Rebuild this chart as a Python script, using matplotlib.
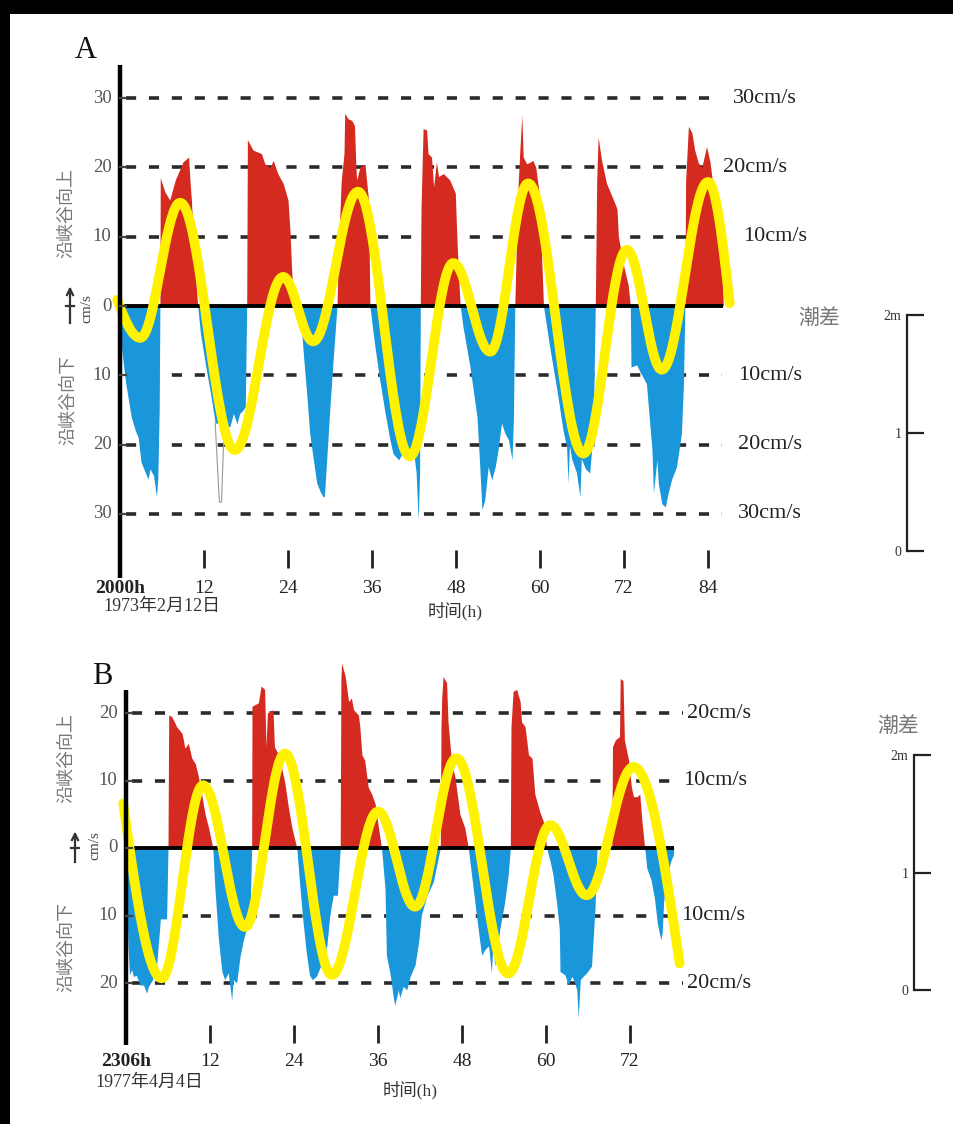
import numpy as np
import matplotlib
matplotlib.use("Agg")
import matplotlib.pyplot as plt
from matplotlib.patches import Rectangle

plt.rcParams['lines.scale_dashes'] = False

W, H = 954, 1124
RED = '#D52A1F'
BLUE = '#1A96DA'
YEL = '#FFF200'
DASH = '#2a2a2a'
SERIF = ['Liberation Serif', 'Noto Sans CJK SC']
CJK = ['Noto Sans CJK SC', 'DejaVu Sans']

# ---------------- Panel A data (hours, speed cm/s; + up-canyon, - down-canyon) ----------------
a_hours = [0, 0.2, 0.8, 1.6, 2.2, 2.6, 3.0, 3.6, 4.0, 4.3, 4.8, 5.2, 5.4, 5.6, 5.7,
           5.75, 6.4, 7.1, 7.9, 9.0, 9.8, 10.0, 10.2, 10.6, 11.1,
           11.5, 12.3, 13.0, 13.6, 14.9, 15.2, 15.7, 16.2, 16.7, 17.1, 17.6, 17.9, 18.1,
           18.2, 19.0, 20.2, 20.7, 21.4, 21.9, 22.4, 22.6, 23.3, 24.0, 24.3, 24.5, 24.8,
           25.7, 26.2, 26.7, 27.1, 27.6, 28.1, 28.6, 29.0, 29.2, 29.6, 30.0, 30.5, 31.0,
           31.2, 31.6, 32.0, 32.1, 32.6, 33.1, 33.5, 33.7, 33.8, 34.3, 35.0, 35.5, 35.6, 35.7,
           36.3, 37.0, 37.8, 38.5, 39.0, 39.8, 40.5, 41.2, 41.9, 42.3, 42.6, 42.8, 42.9,
           43.0, 43.3, 43.8, 44.0, 44.5, 44.8, 45.2, 45.5, 46.2, 47.1, 47.9, 48.1, 48.3, 48.6,
           49.0, 50.0, 51.0, 51.4, 51.7, 52.1, 52.6, 53.1, 53.6, 54.0, 54.5, 55.0, 55.5, 56.0, 56.2, 56.4,
           56.6, 56.9, 57.1, 57.4, 57.6, 58.1, 59.0, 59.4, 60.0, 60.2, 60.5,
           61.4, 62.4, 63.3, 63.8, 64.0, 64.2, 64.5, 65.2, 65.7, 65.9, 66.5, 67.1, 67.6, 67.9,
           68.1, 68.3, 68.8, 69.5, 70.5, 71.0, 71.2, 71.9, 72.6, 72.9,
           73.0, 73.8, 74.3, 75.2, 76.0, 76.2, 76.7, 76.9, 77.4, 77.9, 78.3, 78.8, 79.5, 80.2, 80.5, 80.7,
           80.8, 81.2, 81.7, 82.1, 82.6, 83.1, 83.8, 84.3, 85.0, 85.5, 86.0, 86.2]
a_speed = [0, -6, -11, -16, -18, -19, -22.5, -24, -25, -23.5, -24.5, -27.5, -25, -15, 0,
           18.5, 16.5, 15.3, 18.2, 20.8, 21.5, 18, 15.3, 7, 0,
           -4, -9, -13, -16.9, -16.9, -17.5, -17.4, -15.5, -17, -15.5, -15, -14.5, 0,
           24, 22.5, 22, 20.5, 20, 21, 19.5, 19, 17.7, 15.3, 10.5, 5.6, 0,
           0, -7, -13, -18.4, -22, -25.5, -26.8, -27.5, -27.5, -21, -14.4, -7, 0,
           8, 18, 22, 27.8, 27, 26.8, 26, 20, 18.2, 20.1, 20.4, 15.3, 8, 0,
           -5, -10, -15, -19, -21.3, -22.2, -21, -21, -20.8, -24, -30.9, -24, 0,
           14, 25.6, 25.4, 22.0, 21.5, 17.2, 20.8, 18.7, 19.1, 18.2, 16.3, 10.5, 5.7, 0,
           -3, -8.8, -16.0, -23.2, -29.4, -28, -23.2, -25.1, -23.2, -20.8, -16.9, -18.4, -19.3, -22.2, -16.5, 0,
           8, 18, 22, 27.6, 21.5, 20.5, 21, 20, 15.3, 8, 0,
           -6, -12, -18, -20.3, -25.6, -20, -22, -24, -27.5, -22, -23.5, -24.1, -18, 0,
           18, 24.4, 21, 17.7, 15.3, 14, 10, 6, 3, 0,
           -8.8, -8.5, -9.5, -11.2, -20.8, -27, -22.2, -25.6, -28.5, -29, -27, -25, -23.2, -18.4, -11, 0,
           18, 25.9, 25, 22.5, 20.7, 20, 23, 20.7, 15, 10, 5, 0]
# unfilled (outlined) spike in panel A
a_gap_hours = [13.6, 14.2, 14.5, 14.9]
a_gap_speed = [-16.9, -28.3, -28.3, -16.9]
# tide curve turning points (drawn in the velocity frame)
a_tide_hours = [-0.4, 2.9, 8.6, 16.4, 23.3, 27.6, 34.0, 41.4, 47.6, 52.9, 58.3, 66.2, 72.4, 77.4, 84.0, 87.1]
a_tide_level = [0.9, -4.6, 14.9, -20.8, 4.2, -5.1, 16.5, -21.7, 6.2, -6.6, 17.7, -21.3, 8.1, -9.2, 17.9, 0.4]
a_xticks = [12, 24, 36, 48, 60, 72, 84]
a_yticks = [30, 20, 10, 0, -10, -20, -30]
a_ylabels = ['30', '20', '10', '0', '10', '20', '30']
a_guides = [30, 20, 10, -10, -20, -30]
a_guide_labels = ['30cm/s', '20cm/s', '10cm/s', '10cm/s', '20cm/s', '30cm/s']

# ---------------- Panel B data ----------------
b_hours = [-0.1, 0.0, 0.3, 0.5, 0.8, 1.05, 1.5, 2.0, 2.5, 2.95, 3.2, 3.8, 4.4, 4.8, 4.9, 5.8, 6.0,
           6.1, 6.5, 7.0, 7.2, 8.0, 8.2, 8.4, 8.9, 9.4, 9.9, 10.3, 10.8, 11.3, 11.8, 12.4,
           12.7, 13.2, 13.7, 14.1, 14.6, 15.1, 15.3, 15.8, 16.3, 16.8, 17.2, 17.7, 17.95,
           18.0, 18.9, 19.3, 19.8, 20.0, 20.2, 21.0, 21.2, 21.8, 22.2, 22.7, 23.2, 23.7, 24.4,
           24.7, 25.2, 25.7, 26.2, 26.6, 27.2, 28.0, 28.7, 29.1, 29.6, 30.2, 30.6,
           30.7, 30.8, 31.3, 31.8, 32.2, 32.5, 33.2, 33.4, 33.7, 34.1, 34.6, 35.1, 35.6, 36.0, 36.5,
           37.0, 37.2, 37.7, 38.2, 38.4, 38.9, 39.1, 39.6, 40.1, 40.6, 41.3, 41.8, 42.2, 43.0, 43.9, 44.9,
           45.0, 45.1, 45.3, 45.8, 46.0, 46.5, 47.0, 47.7, 48.4, 48.9,
           49.6, 50.3, 50.8, 51.3, 51.8, 52.2, 52.4, 52.7, 53.4, 54.1, 54.6, 54.9,
           55.0, 55.3, 55.8, 56.3, 56.5, 57.0, 57.5, 58.0, 58.4, 59.1, 59.6, 60.1,
           60.6, 61.0, 61.5, 61.9, 62.0, 62.7, 63.2, 63.7, 64.1, 64.4, 64.6, 64.9, 65.3, 65.8, 66.5, 67.0, 67.3, 69.4,
           69.5, 69.9, 70.5, 70.6, 71.0, 71.2, 71.8, 72.2, 72.5, 73.0, 73.4, 73.7, 74.1,
           74.4, 75.0, 75.5, 75.9, 76.4, 76.6, 76.8, 77.3, 77.8, 78.2, 78.25]
b_speed = [0, -5, -14.8, -18.8, -18, -19, -18.9, -20.3, -20.3, -21.5, -20.5, -19.5, -17, -12, -10.5, -10.5, 0,
           19.7, 19.5, 18.5, 18, 17, 16, 14.8, 15.5, 13.3, 12.5, 10.8, 8, 5, 3, 0,
           -6, -13.5, -18.3, -19.5, -18.5, -22.5, -19.5, -20, -16, -13.5, -12, -11, 0,
           21, 21.5, 24, 23.5, 15, 20, 20.5, 15, 13.8, 12, 9.6, 6, 3, 0,
           -4, -10, -15, -18.8, -19.5, -19, -17, -14.4, -10.1, -7, -7, 0,
           25, 27.4, 25.5, 21.7, 22.2, 20.5, 19.7, 18, 13.8, 13, 9, 8, 6.5, 3.5, 0,
           -6, -15.9, -18.5, -22.2, -23.3, -21, -22.2, -20.5, -21, -19, -17.3, -13.9, -9.9, -7, -5, 0,
           18, 22.2, 25.4, 24.5, 18.7, 12.8, 10.5, 5, 3, 0,
           -6, -11.9, -15.9, -15, -14.5, -18.5, -14.5, -17.5, -12, -8, -4, 0,
           18, 23.2, 23.5, 21.7, 18.7, 18, 13.8, 13.3, 8, 5.4, 4, 0,
           -2, -4, -8, -12, -18.3, -18.8, -20.3, -19, -20, -21, -25.2, -19.5, -19, -18.5, -17.5, -9, 0, 0,
           15, 16, 16.5, 25.1, 24.8, 16, 13, 9, 7.6, 7.6, 8, 4, 0,
           -3, -4.7, -7.5, -11.1, -13.6, -12.5, -8, -4, -2, -1, 0]
b_tide_hours = [-0.4, 5.1, 11.0, 17.0, 22.7, 29.4, 36.0, 41.3, 47.2, 54.6, 60.6, 65.8, 72.5, 79.1]
b_tide_level = [6.6, -19.3, 9.3, -11.7, 14.0, -18.8, 5.4, -8.7, 13.3, -18.6, 3.4, -7.0, 12.0, -17.1]
b_xticks = [12, 24, 36, 48, 60, 72]
b_yticks = [20, 10, 0, -10, -20]
b_ylabels = ['20', '10', '0', '10', '20']
b_guides = [20, 10, -10, -20]
b_guide_labels = ['20cm/s', '10cm/s', '10cm/s', '20cm/s']

tide_ticks = [0, 1, 2]
tide_tick_labels = ['0', '1', '2m']


def tide_path(hs, vs, n=40):
    """Sinusoidal strokes between successive turning points (first/last are mid-slope ends)."""
    xs, ys = [], []
    last = len(hs) - 2
    for i in range(len(hs) - 1):
        s = np.linspace(0, 1, n)
        if i == 0:
            f = np.sin(np.pi / 2 * s)
        elif i == last:
            f = 1 - np.cos(np.pi / 2 * s)
        else:
            f = (1 - np.cos(np.pi * s)) / 2
        xs.append(hs[i] + (hs[i + 1] - hs[i]) * s)
        ys.append(vs[i] + (vs[i + 1] - vs[i]) * f)
    return np.concatenate(xs), np.concatenate(ys)


def P(x, y):
    return x / W, 1 - y / H


fig = plt.figure(figsize=(W / 100, H / 100), dpi=100, facecolor='black')
fig.patches.append(Rectangle((10 / W, 0), 1, 1 - 14 / H, transform=fig.transFigure,
                             facecolor='white', edgecolor='none', zorder=-10))


def panel(x0, y0, sx, sy):
    ax = fig.add_axes([0, 0, 1, 1])
    ax.set_xlim(-x0 / sx, (W - x0) / sx)
    ax.set_ylim(-(H - y0) / sy, y0 / sy)
    ax.axis('off')
    ax.patch.set_alpha(0)
    return ax


def draw(ax, hours, speed, th, tl, xticks, yticks, ylabels, guides, gl, g_end, lab_x,
         axis_top, axis_bot, tick_y0, tick_y1, xl_y, zero_end):
    h = np.array(hours, float)
    v = np.array(speed, float)
    for g, lab, e, lx in zip(guides, gl, g_end, lab_x):
        ax.plot([0.8, e], [g, g], color=DASH, lw=2.6, dashes=(7.3, 9.2), zorder=1,
                solid_capstyle='butt', dash_capstyle='butt')
        ax.text(lx, g, lab, ha='left', va='center', fontsize=16, family=SERIF, color='#222222')
    ax.fill_between(h, np.where(v > 0, v, 0), 0, color=RED, lw=0, zorder=2)
    ax.fill_between(h, np.where(v < 0, v, 0), 0, color=BLUE, lw=0, zorder=2)
    ax.plot([0, zero_end], [0, 0], color='black', lw=2.8, zorder=3, solid_capstyle='butt')
    tx, ty = tide_path(th, tl)
    ax.plot(tx, ty, color=YEL, lw=7.0, zorder=4, solid_capstyle='round')
    ax.plot([0, 0], [axis_top, axis_bot], color='black', lw=3.2, zorder=5, solid_capstyle='butt')
    for y, s in zip(yticks, ylabels):
        ax.plot([0, 0.9], [y, y], color='#444444', lw=1.6, zorder=5)
        ax.text(-1.2, y, s, ha='right', va='center', fontsize=13.5, family=SERIF, color='#555555')
    for x in xticks:
        ax.plot([x, x], [tick_y0, tick_y1], color='#222222', lw=2.0, solid_capstyle='butt')
        ax.text(x, xl_y, str(x), ha='center', va='center', fontsize=14, family=SERIF, color='#222222')


# Panel A: 0 h at x=120 px, 7 px/h; 0 cm/s at y=306 px, 6.93 px per cm/s
axA = panel(120, 306, 7.0, 6.93)
draw(axA, a_hours, a_speed, a_tide_hours, a_tide_level, a_xticks, a_yticks, a_ylabels,
     a_guides, a_guide_labels,
     g_end=[85.4, 84.0, 86.0, 86.0, 86.0, 86.0],
     lab_x=[87.6, 86.2, 89.0, 88.3, 88.3, 88.3],
     axis_top=34.8, axis_bot=-39.2, tick_y0=-35.2, tick_y1=-37.8, xl_y=-40.8,
     zero_end=86.2)
axA.plot(a_gap_hours, a_gap_speed, color='#9a9a9a', lw=0.8, zorder=2)
axA.text(0, -40.8, '2000h', ha='center', va='center', fontsize=14, family=SERIF,
         color='#222222', fontweight='bold')
axA.text(6.0, -43.4, '1973年2月12日', ha='center', va='center', fontsize=13, family=SERIF, color='#333333')
axA.text(47.9, -44.0, '时间(h)', ha='center', va='center', fontsize=12.5, family=SERIF, color='#333333')

# Panel B: 0 h at x=126 px, 7 px/h; 0 cm/s at y=848 px, 6.75 px per cm/s
axB = panel(126, 848, 7.0, 6.75)
draw(axB, b_hours, b_speed, b_tide_hours, b_tide_level, b_xticks, b_yticks, b_ylabels,
     b_guides, b_guide_labels,
     g_end=[79.6, 79.4, 79.1, 79.6],
     lab_x=[80.2, 79.6, 79.3, 80.2],
     axis_top=23.4, axis_bot=-29.2, tick_y0=-26.2, tick_y1=-28.9, xl_y=-31.7,
     zero_end=78.3)
axB.text(0, -31.7, '2306h', ha='center', va='center', fontsize=14, family=SERIF,
         color='#222222', fontweight='bold')
axB.text(3.4, -34.8, '1977年4月4日', ha='center', va='center', fontsize=13, family=SERIF, color='#333333')
axB.text(40.6, -35.9, '时间(h)', ha='center', va='center', fontsize=12.5, family=SERIF, color='#333333')

# panel letters
fig.text(*P(86, 50), 'A', fontsize=22, family=SERIF, ha='center', va='center', color='#111111')
fig.text(*P(102, 676), 'B', fontsize=22, family=SERIF, ha='center', va='center', color='#111111')

# left side labels
for (x, y, s) in [(66, 213, '沿峡谷向上'), (68, 400, '沿峡谷向下'),
                  (66, 758, '沿峡谷向上'), (66, 947, '沿峡谷向下')]:
    fig.text(*P(x, y), s, rotation=90, fontsize=13, family=CJK, ha='center', va='center', color='#777777')
for (x, y) in [(87, 309), (95, 846)]:
    fig.text(*P(x, y), 'cm/s', rotation=90, fontsize=11, family=SERIF, ha='center', va='center', color='#444444')
for (x, y0, y1) in [(70, 289, 323), (75, 834, 862)]:
    fig.lines.append(plt.Line2D([x / W, x / W], [1 - y0 / H, 1 - y1 / H], transform=fig.transFigure,
                                color='#333333', lw=1.6))
    ym = (y0 + y1) / 2
    fig.lines.append(plt.Line2D([(x - 4) / W, (x + 4) / W], [1 - ym / H, 1 - ym / H], transform=fig.transFigure,
                                color='#333333', lw=1.6))
    fig.lines.append(plt.Line2D([(x - 3) / W, x / W, (x + 3) / W], [1 - (y0 + 6) / H, 1 - y0 / H, 1 - (y0 + 6) / H],
                                transform=fig.transFigure, color='#333333', lw=1.6))


# tide range scales
def tide_scale(x, ytop, ybot, title_xy):
    ax = fig.add_axes([x / W, 1 - ybot / H, 0.02, (ybot - ytop) / H])
    ax.set_ylim(0, 2)
    ax.set_xlim(0, 1)
    ax.patch.set_alpha(0)
    for s in ['top', 'right', 'bottom']:
        ax.spines[s].set_visible(False)
    ax.spines['left'].set_linewidth(1.6)
    ax.spines['left'].set_color('#222222')
    ax.set_xticks([])
    ax.set_yticks(tide_ticks)
    ax.set_yticklabels(tide_tick_labels, family=SERIF, fontsize=10, color='#333333')
    ax.tick_params(axis='y', direction='in', length=12, width=1.6, color='#222222', pad=4)
    fig.text(*P(*title_xy), '潮差', fontsize=15, family=CJK, ha='center', va='center', color='#777777')


tide_scale(907, 315, 551, (819, 318))
tide_scale(914, 755, 990, (898, 726))

fig.savefig('out.png', dpi=100, facecolor=fig.get_facecolor())
